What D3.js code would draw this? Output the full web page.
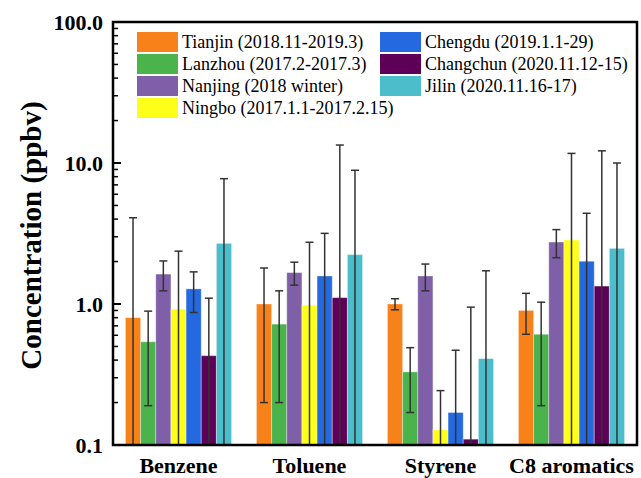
<!DOCTYPE html>
<html><head><meta charset="utf-8">
<script src="https://cdn.jsdelivr.net/npm/d3@7"></script>
<style>body{margin:0;background:#fff}svg{display:block}text{font-family:"Liberation Serif","Times New Roman",serif}</style>
</head><body><svg id="c" width="641" height="478"></svg>
<script>
const categories = ["Benzene", "Toluene", "Styrene", "C8 aromatics"];
const seriesNames = ["Tianjin (2018.11-2019.3)", "Lanzhou (2017.2-2017.3)", "Nanjing (2018 winter)", "Ningbo (2017.1.1-2017.2.15)", "Chengdu (2019.1.1-29)", "Changchun (2020.11.12-15)", "Jilin (2020.11.16-17)"];
const seriesColors = ["#F8821A", "#4BB34B", "#7F5FA8", "#FFFF1A", "#2469E0", "#5F0058", "#4BBDCB"];
// mean values per series (Benzene, Toluene, Styrene, C8 aromatics)
const tianjin   = [0.80, 1.00, 1.00, 0.90];
const lanzhou   = [0.54, 0.72, 0.33, 0.61];
const nanjing   = [1.63, 1.67, 1.58, 2.75];
const ningbo    = [0.92, 0.98, 0.128, 2.84];
const chengdu   = [1.28, 1.58, 0.17, 2.01];
const changchun = [0.43, 1.11, 0.11, 1.34];
const jilin     = [2.69, 2.24, 0.41, 2.48];
// standard deviations
const tianjinSd   = [3.29, 0.80, 0.09, 0.29];
const lanzhouSd   = [0.35, 0.52, 0.16, 0.42];
const nanjingSd   = [0.39, 0.31, 0.34, 0.62];
const ningboSd    = [1.45, 1.76, 0.115, 8.86];
const chengduSd   = [0.41, 1.59, 0.30, 2.39];
const changchunSd = [0.67, 12.3, 0.84, 10.86];
const jilinSd     = [5.05, 6.64, 1.31, 7.52];
const yTicks = [0.1, 1, 10, 100];

const means = [tianjin, lanzhou, nanjing, ningbo, chengdu, changchun, jilin];
const sds = [tianjinSd, lanzhouSd, nanjingSd, ningboSd, chengduSd, changchunSd, jilinSd];

const svg = d3.select("#c");
const L = 113, R = 637, T = 22, B = 445;
const x0 = d3.scaleBand().domain(categories).range([L, R]).paddingInner(0.19).paddingOuter(0.095);
const x1 = d3.scaleBand().domain(d3.range(seriesNames.length)).range([0, x0.bandwidth()]);
const y = d3.scaleLog().domain([0.1, 100]).range([B, T]);

svg.append("defs").append("clipPath").attr("id", "clip")
  .append("rect").attr("x", L).attr("y", T).attr("width", R - L).attr("height", B - T);

const data = [];
categories.forEach((c, ci) => means.forEach((m, si) => data.push({c, si, v: m[ci], sd: sds[si][ci]})));

const g = svg.append("g").attr("clip-path", "url(#clip)");
g.selectAll("rect.bar").data(data).join("rect").attr("class", "bar")
  .attr("x", d => x0(d.c) + x1(d.si))
  .attr("width", x1.bandwidth())
  .attr("y", d => y(d.v))
  .attr("height", d => B - y(d.v))
  .attr("fill", d => seriesColors[d.si])
  .attr("stroke", "rgba(255,255,255,0.35)").attr("stroke-width", 1);

const eb = g.selectAll("g.eb").data(data).join("g").attr("class", "eb")
  .attr("stroke", "#333").attr("stroke-width", 1.5);
const cx = d => x0(d.c) + x1(d.si) + x1.bandwidth() / 2;
const lowY = d => d.v - d.sd > 0.1 ? y(d.v - d.sd) : B + 5;
eb.append("line").attr("x1", cx).attr("x2", cx)
  .attr("y1", d => y(d.v + d.sd)).attr("y2", lowY);
eb.append("line").attr("x1", d => cx(d) - 4).attr("x2", d => cx(d) + 4)
  .attr("y1", d => y(d.v + d.sd)).attr("y2", d => y(d.v + d.sd));
eb.filter(d => d.v - d.sd > 0.1).append("line").attr("x1", d => cx(d) - 4).attr("x2", d => cx(d) + 4)
  .attr("y1", d => y(d.v - d.sd)).attr("y2", d => y(d.v - d.sd));

// y axis ticks (inward)
const minor = [];
[0.1, 1, 10].forEach(b => { for (let k = 2; k <= 9; k++) minor.push(b * k); });
const yAxis = svg.append("g");
yAxis.selectAll("line.maj").data(yTicks).join("line")
  .attr("x1", L).attr("x2", L + 8).attr("y1", d => y(d)).attr("y2", d => y(d))
  .attr("stroke", "#000").attr("stroke-width", 2);
yAxis.selectAll("line.min").data(minor).join("line")
  .attr("x1", L).attr("x2", L + 5).attr("y1", d => y(d)).attr("y2", d => y(d))
  .attr("stroke", "#000").attr("stroke-width", 1.5);
yAxis.selectAll("text").data(yTicks).join("text")
  .attr("x", L - 10).attr("y", d => y(d)).attr("dy", "0.35em")
  .attr("text-anchor", "end").attr("font-size", 22).attr("font-weight", "bold")
  .text(d => d.toFixed(1));

// frame
svg.append("rect").attr("x", L).attr("y", T).attr("width", R - L).attr("height", B - T)
  .attr("fill", "none").attr("stroke", "#000").attr("stroke-width", 2.5);

// x labels
svg.selectAll("text.xl").data(categories).join("text").attr("class", "xl")
  .attr("x", d => x0(d) + x0.bandwidth() / 2).attr("y", 473)
  .attr("text-anchor", "middle").attr("font-size", 22).attr("font-weight", "bold")
  .text(d => d);

// y title
svg.append("text").attr("transform", `translate(41,${(T + B) / 2 + 2}) rotate(-90)`)
  .attr("text-anchor", "middle").attr("font-size", 29).attr("font-weight", "bold")
  .text("Concentration (ppbv)");

// legend
const leg = svg.append("g");
seriesNames.forEach((n, i) => {
  const col = i < 4 ? 0 : 1, row = i < 4 ? i : i - 4;
  const lx = col === 0 ? 137 : 380, ly = 32 + row * 22;
  leg.append("rect").attr("x", lx).attr("y", ly).attr("width", 41).attr("height", 20).attr("fill", seriesColors[i]);
  leg.append("text").attr("x", lx + 45).attr("y", ly + 10).attr("dy", "0.35em")
    .attr("font-size", 18).text(n);
});
</script></body></html>
